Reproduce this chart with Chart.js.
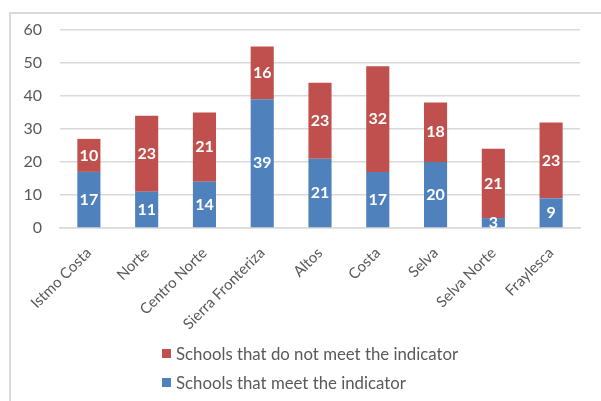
<!DOCTYPE html>
<html>
<head>
<meta charset="utf-8">
<script src="https://cdn.jsdelivr.net/npm/chart.js@4.4.1/dist/chart.umd.min.js"></script>
<style>
  html, body { margin: 0; padding: 0; background: #fff; }
  #wrap { position: relative; width: 601px; height: 401px; overflow: hidden; }
  #frame { position: absolute; left: 9px; top: 12px; width: 640px; height: 440px;
    border-top: 2px solid #d9d9d9; border-left: 2px solid #d9d9d9; }
  #chart { position: absolute; left: 0; top: 0; }
  #legend { position: absolute; left: 162px; top: 339px; font-family: Lato, "Open Sans", sans-serif;
    font-size: 16.8px; color: #595959; }
  #legend div { display: flex; align-items: center; height: 29px; }
  #legend span.box { display: inline-block; width: 9px; height: 9px; margin-right: 5px; }
</style>
</head>
<body>
<div id="wrap">
  <div id="frame"></div>
  <canvas id="chart" width="601" height="401"></canvas>
  <div id="legend"></div>
</div>
<script>
const regions = ["Istmo Costa", "Norte", "Centro Norte", "Sierra Fronteriza", "Altos", "Costa", "Selva", "Selva Norte", "Fraylesca"];
const meetValues = [17, 11, 14, 39, 21, 17, 20, 3, 9];
const notMeetValues = [10, 23, 21, 16, 23, 32, 18, 21, 23];
const meetLabel = "Schools that meet the indicator";
const notMeetLabel = "Schools that do not meet the indicator";
const blue = "#4f81bd";
const red = "#c0504d";

const barLabels = {
  id: "barLabels",
  afterDatasetsDraw(chart) {
    const ctx = chart.ctx;
    ctx.save();
    ctx.font = "bold 16px Lato, 'Open Sans', sans-serif";
    ctx.fillStyle = "#ffffff";
    ctx.textAlign = "center";
    ctx.textBaseline = "middle";
    chart.data.datasets.forEach((ds, i) => {
      chart.getDatasetMeta(i).data.forEach((bar, j) => {
        const mid = (bar.y + bar.base) / 2;
        ctx.fillText(String(ds.data[j]), bar.x, mid);
      });
    });
    ctx.restore();
  },
};

const ctx = document.getElementById("chart").getContext("2d");
const chart = new Chart(ctx, {
  type: "bar",
  data: {
    labels: regions,
    datasets: [
      { label: meetLabel, data: meetValues, backgroundColor: blue, barPercentage: 0.8, categoryPercentage: 0.5 },
      { label: notMeetLabel, data: notMeetValues, backgroundColor: red, barPercentage: 0.8, categoryPercentage: 0.5 },
    ],
  },
  options: {
    responsive: false,
    animation: false,
    layout: { padding: { left: 10, right: 21, top: 30, bottom: 0 } },
    plugins: { legend: { display: false }, tooltip: { enabled: false } },
    scales: {
      x: {
        stacked: true,
        grid: { display: false, drawTicks: false },
        border: { color: "#d9d9d9", width: 1.5 },
        ticks: {
          color: "#595959",
          font: { family: "Lato, 'Open Sans', sans-serif", size: 15 },
          minRotation: 45,
          maxRotation: 45,
          padding: 16,
        },
        afterFit: (s) => { s.height = 173; },
      },
      y: {
        stacked: true,
        min: 0,
        max: 60,
        grid: { color: "#d9d9d9", lineWidth: 1.5, drawTicks: false },
        border: { display: false },
        ticks: {
          stepSize: 10,
          color: "#595959",
          font: { family: "Lato, 'Open Sans', sans-serif", size: 16 },
          padding: 18,
        },
        afterFit: (s) => { s.width = 50; },
      },
    },
  },
  plugins: [barLabels],
});

const legend = document.getElementById("legend");
chart.data.datasets.slice().reverse().forEach((ds) => {
  const row = document.createElement("div");
  row.innerHTML = `<span class="box" style="background:${ds.backgroundColor}"></span>${ds.label}`;
  legend.appendChild(row);
});
</script>
</body>
</html>
